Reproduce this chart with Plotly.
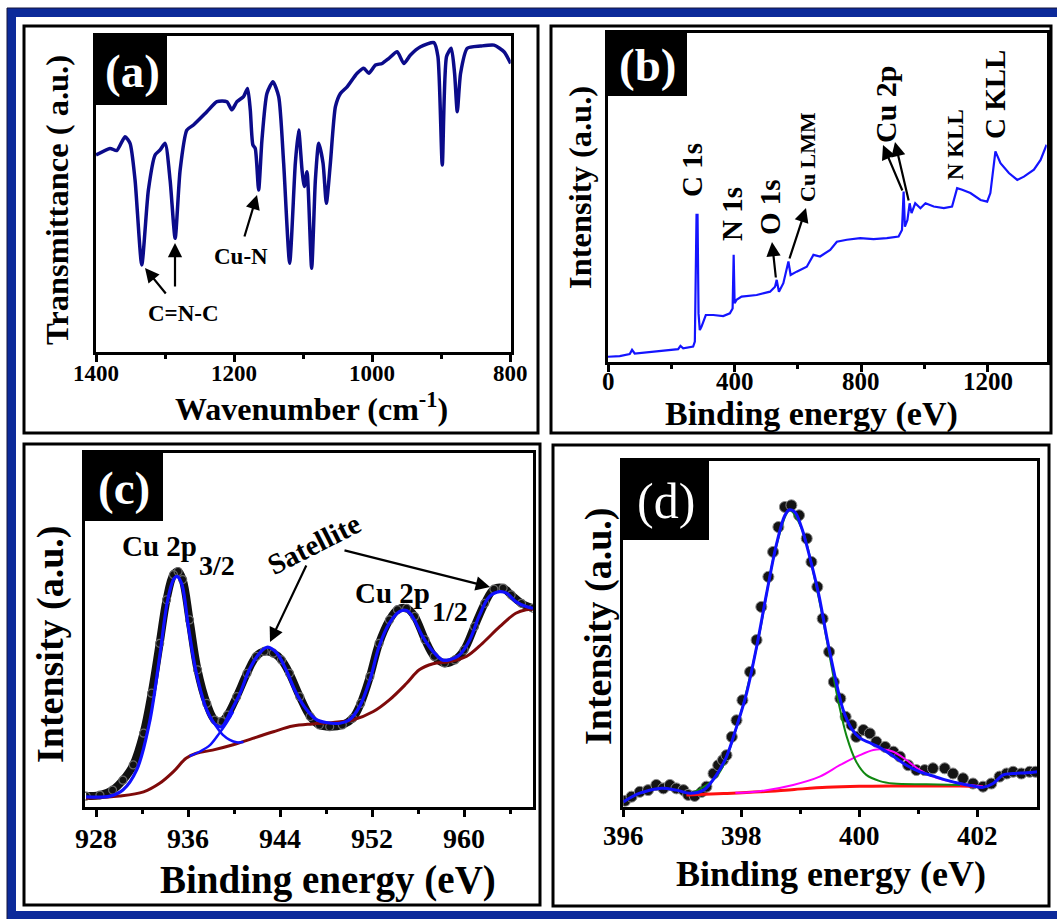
import plotly.graph_objects as go

# ---------------- data ----------------
# (a) FTIR
ftir_wn = [1400, 1379.7, 1370, 1358, 1350.7, 1343.5, 1333.8, 1324.2, 1314.5, 1307.2, 1300, 1292.8,
           1285.5, 1278.3, 1268.6, 1259, 1239.6, 1225, 1210.6, 1203.4, 1196.1, 1186.5, 1180.7, 1176.8,
           1173, 1169.6, 1164.7, 1159.9, 1152.7, 1144, 1135.7, 1128.5, 1119.8, 1111.6, 1106.8, 1101.9,
           1098.6, 1094.7, 1088, 1082.6, 1077.8, 1071.5, 1066.7, 1060.9, 1053.6, 1046.4, 1036.7, 1022.2,
           1012.6, 1005.3, 995.6, 986, 976.3, 964.3, 954.6, 945, 930.4, 911.1, 905.3, 899, 892.8, 886,
           881.2, 877.3, 872.5, 862.8, 843.5, 824.2, 809.7, 800]
ftir_T = [62.3, 64.4, 63.7, 68.1, 66, 54.4, 27.5, 51.2, 62.3, 63.9, 66, 54.4,
          35.9, 57.5, 70.2, 71.8, 76, 79.2, 79.2, 76.6, 79.2, 80.8, 83.4, 76.6,
          65.5, 64.4, 51.2, 67.1, 81.8, 85.5, 80.8, 59.7, 28, 59.7, 70.2, 57.5,
          52.3, 57, 26.4, 54.4, 66, 59.7, 47, 59.7, 77.6, 81.8, 83.9, 88.2,
          89.8, 88.2, 90.8, 91.3, 92.9, 95, 91.3, 94, 96.6, 97.9, 93.5, 59.1, 93.5, 96.1,
          88.2, 76, 88.2, 96.1, 96.8, 97.1, 95, 91.3]

# (b) XPS survey
surv_be = [0, 37, 68.6, 76, 84.4, 132, 184.7, 221.6, 229, 237.5, 269, 274.4, 279.7, 282.9, 286, 290,
           295.5, 309, 332.5, 364, 385, 393.7, 397, 400, 406, 422, 469.7, 511.9, 527.7, 533, 540, 554,
           570, 577, 596, 628, 649, 670, 702, 723, 754.6, 796.8, 839, 881, 918, 928.8, 934, 938, 946,
           953, 959, 970.6, 987, 1003, 1029, 1061, 1087, 1103, 1119, 1145, 1177, 1198, 1208, 1224,
           1240, 1266.5, 1293, 1314, 1345.6, 1366.7, 1385.7]
surv_I = [1.5, 1.7, 2.3, 3.6, 2.5, 3, 3.4, 3.8, 4.8, 4.1, 4.6, 6.1, 44.7, 44.7, 14.7, 9.6,
          10.7, 14.2, 14.2, 13.9, 14.7, 16.2, 32.5, 17.8, 18.8, 19.8, 20.3, 21.3, 22.8, 24.9, 21.3, 23.9,
          30.5, 26.4, 27.4, 28.9, 32.5, 32, 34, 36.5, 37.1, 37.6, 37.3, 37.6, 38.1, 40.1, 51.8, 41.1, 43.1,
          48.2, 45.2, 48.2, 46.7, 48.2, 47.2, 46.7, 47.2, 52.8, 52.3, 51.3, 49.2, 48.7, 51.3, 64,
          60.4, 57.4, 55.3, 56.3, 58.4, 61.4, 66]

# (c) Cu 2p
cu_data_be = [927.1, 928.3, 929.4, 930.3, 931.2, 932.1, 932.8, 933.5, 934.1, 934.7, 935.1, 935.5, 936.1,
              936.8, 937.6, 938.3, 938.9, 939.4, 940.2, 941.1, 941.9, 942.6, 943.4, 944.1, 944.8, 945.7,
              946.6, 947.4, 948.3, 949.4, 950.3, 951.0, 951.8, 952.6, 953.5, 954.2, 955.0, 955.7, 956.6,
              957.4, 958.3, 959.2, 960.0, 960.9, 961.8, 962.6, 963.4, 964.1, 965.0, 966.0]
cu_data_I = [3.0, 3.3, 4.7, 7.5, 11.8, 20.8, 32.1, 46.2, 58.5, 65.6, 66.5, 64.2, 52.8,
             38.7, 29.2, 24.5, 24.1, 25.9, 31.1, 37.7, 42.5, 43.9, 43.4, 41.5, 37.7, 31.1,
             25.5, 23.1, 22.6, 23.1, 25.0, 29.2, 36.8, 46.2, 52.8, 55.7, 56.1, 53.8, 47.2,
             42.5, 40.6, 41.5, 44.3, 50.9, 57.5, 61.5, 61.8, 59.9, 57.5, 56.1]
cu_fit_be = [927.1, 929.2, 930.3, 931.5, 932.6, 933.5, 934.2, 934.7, 935.0, 935.4, 936.0, 936.7, 937.6,
             938.4, 938.9, 939.6, 940.5, 941.3, 942.2, 942.9, 943.7, 944.5, 945.4, 946.3, 947.1, 948.0,
             949.2, 950.0, 950.9, 951.8, 952.6, 953.5, 954.4, 955.0, 955.5, 956.4, 957.3, 958.1, 958.7,
             959.6, 960.5, 961.3, 962.2, 963.1, 963.7, 964.5, 965.4, 966.0]
cu_fit_I = [2.8, 3.0, 4.7, 10.4, 23.6, 42.5, 58.5, 64.2, 65.1, 63.2, 50.9, 37.7, 27.4,
            23.1, 22.6, 26.4, 32.1, 38.7, 43.4, 45.1, 43.4, 38.7, 32.1, 27.4, 24.7, 23.8,
            23.6, 24.5, 28.3, 35.8, 45.3, 51.9, 55.2, 55.5, 53.8, 48.1, 43.9, 41.5, 41.5,
            42.9, 47.2, 53.8, 59.4, 60.8, 60.4, 58.0, 56.6, 56.1]
cu_main_tail_be = [937.6, 938.4, 939.0, 939.6, 940.2, 940.8]
cu_main_tail_I = [27.2, 22.8, 20.3, 18.9, 18.2, 18.3]
cu_sat_rise_be = [936.1, 937.0, 937.9, 938.7, 939.3, 939.9]
cu_sat_rise_I = [14.3, 15.6, 17.5, 20.8, 23.6, 26.9]
cu_bg_be = [927.1, 930.0, 932.1, 933.5, 934.7, 935.8, 936.7, 938.1, 939.9, 941.6, 943.4, 945.1, 946.8,
            948.6, 950.3, 952.1, 953.5, 955.0, 956.1, 957.3, 958.7, 960.2, 961.6, 963.1, 964.5, 965.4, 966.0]
cu_bg_I = [2.4, 3.0, 4.2, 6.6, 9.9, 13.7, 15.1, 16.0, 17.5, 19.3, 21.2, 22.8, 23.4,
           23.8, 24.5, 26.9, 30.2, 34.9, 38.7, 40.4, 41.0, 42.5, 46.2, 50.9, 54.7, 55.7, 55.8]

# (d) N 1s
n_data_be = [396.03, 396.14, 396.28, 396.42, 396.56, 396.68, 396.79, 396.9, 397.02, 397.10, 397.21, 397.33,
             397.41, 397.53, 397.61, 397.69, 397.75, 397.84, 397.92, 398.02, 398.15, 398.26, 398.34, 398.46,
             398.54, 398.63, 398.74, 398.85, 398.98, 399.11, 399.19, 399.29, 399.38, 399.49, 399.57, 399.68,
             399.77, 399.87, 399.95, 400.07, 400.18, 400.29, 400.44, 400.58, 400.69, 400.83, 400.97, 401.11,
             401.25, 401.45, 401.59, 401.76, 401.93, 402.10, 402.24, 402.38, 402.50, 402.61, 402.75, 402.89, 402.99]
n_data_I = [1.7, 2.9, 4.3, 4.8, 6.3, 5.3, 6.3, 5.3, 4.8, 3.4, 3.1, 4.3,
            5.8, 9.6, 12.0, 13.5, 14.9, 20.2, 25.0, 30.8, 39.0, 48.2, 57.8, 66.5,
            73.7, 80.9, 86.7, 87.2, 84.3, 77.6, 70.8, 63.6, 54.4, 44.8, 36.1, 31.3,
            26.0, 23.6, 20.2, 22.2, 21.2, 18.8, 17.3, 15.9, 14.5, 12.0, 10.6, 10.6,
            11.1, 11.1, 9.6, 8.2, 6.7, 5.8, 6.7, 8.7, 9.6, 10.1, 9.6, 10.1, 10.1]
n_fit_be = [396.0, 396.28, 396.62, 396.9, 397.13, 397.36, 397.58, 397.75, 397.92, 398.09, 398.26, 398.43,
            398.60, 398.74, 398.82, 398.91, 399.02, 399.16, 399.31, 399.45, 399.59, 399.73, 399.87, 400.01,
            400.18, 400.35, 400.58, 400.80, 401.03, 401.25, 401.48, 401.71, 401.93, 402.10, 402.27, 402.44,
            402.61, 402.84, 403.02]
n_fit_I = [1.4, 3.9, 5.3, 4.8, 3.9, 4.8, 9.2, 14.5, 23.1, 32.8, 46.2, 61.7,
           76.1, 84.3, 85.9, 85.2, 80.9, 72.3, 61.7, 49.1, 37.6, 27.9, 22.6, 19.9,
           18.5, 17.1, 14.6, 12.0, 10.1, 8.9, 7.7, 6.7, 6.0, 5.6, 6.7, 9.2,
           9.6, 9.8, 10.1]
n_green_be = [397.13, 397.58, 397.92, 398.26, 398.60, 398.82, 399.02, 399.31, 399.45, 399.63, 399.79,
              399.95, 400.12, 400.35, 400.58, 401.14, 401.71]
n_green_I = [3.7, 8.7, 22.9, 46.0, 75.8, 85.7, 80.7, 60.7, 48.2, 31.8, 20.2,
             13.0, 9.2, 7.4, 6.7, 6.5, 6.3]
n_mag_be = [397.9, 398.32, 398.88, 399.33, 399.67, 400.01, 400.24, 400.38, 400.58, 400.80, 401.03,
            401.25, 401.71, 402.1]
n_mag_I = [4.0, 4.5, 6.3, 8.7, 12.0, 14.9, 16.4, 16.6, 15.9, 13.5, 10.6, 8.7, 6.7, 5.8]
n_bg_be = [397.07, 397.7, 398.32, 398.9, 399.45, 400.0, 400.58, 401.2, 401.71, 402.1]
n_bg_I = [3.4, 3.8, 4.3, 5.0, 5.6, 5.9, 6.0, 6.0, 6.0, 5.8]

# tick labels
a_ticks = [1400, 1200, 1000, 800]
a_minor = [1300, 1100, 900]
b_ticks = [0, 400, 800, 1200]
b_minor = [200, 600, 1000]
c_ticks = [928, 936, 944, 952, 960]
c_minor = [932, 940, 948, 956, 964]
d_ticks = [396, 398, 400, 402]
d_minor = [397, 399, 401]

# ---------------- layout helpers ----------------
W, H = 1057, 919
SERIF = "Liberation Serif"


def px(x):
    return x / W


def py(y):
    return 1 - y / H


fig = go.Figure()

# (a)
fig.add_trace(go.Scatter(x=ftir_wn, y=ftir_T, mode="lines",
                         line=dict(color="#0b0b8a", width=3.5, shape="spline", smoothing=0.6),
                         xaxis="x", yaxis="y", showlegend=False))
# (b)
fig.add_trace(go.Scatter(x=surv_be, y=surv_I, mode="lines", line=dict(color="#1414ff", width=2.2),
                         xaxis="x2", yaxis="y2", showlegend=False))
# (c)
fig.add_trace(go.Scatter(x=cu_data_be, y=cu_data_I, mode="lines+markers",
                         line=dict(color="#111111", width=8, shape="spline"),
                         marker=dict(symbol="circle-open", size=8, color="#666666", line=dict(width=1.2)),
                         xaxis="x3", yaxis="y3", showlegend=False))
fig.add_trace(go.Scatter(x=cu_bg_be, y=cu_bg_I, mode="lines", line=dict(color="#7f0a0a", width=3, shape="spline"),
                         xaxis="x3", yaxis="y3", showlegend=False))
fig.add_trace(go.Scatter(x=cu_main_tail_be, y=cu_main_tail_I, mode="lines",
                         line=dict(color="#1010ff", width=2.5, shape="spline"),
                         xaxis="x3", yaxis="y3", showlegend=False))
fig.add_trace(go.Scatter(x=cu_sat_rise_be, y=cu_sat_rise_I, mode="lines",
                         line=dict(color="#1010ff", width=2.5, shape="spline"),
                         xaxis="x3", yaxis="y3", showlegend=False))
fig.add_trace(go.Scatter(x=cu_fit_be, y=cu_fit_I, mode="lines", line=dict(color="#1010ff", width=3.2, shape="spline"),
                         xaxis="x3", yaxis="y3", showlegend=False))
# (d)
fig.add_trace(go.Scatter(x=n_data_be, y=n_data_I, mode="markers",
                         marker=dict(symbol="circle", size=11, color="#141414", line=dict(color="#8a8a8a", width=1)),
                         xaxis="x4", yaxis="y4", showlegend=False))
fig.add_trace(go.Scatter(x=n_bg_be, y=n_bg_I, mode="lines", line=dict(color="#ff1010", width=3, shape="spline"),
                         xaxis="x4", yaxis="y4", showlegend=False))
fig.add_trace(go.Scatter(x=n_mag_be, y=n_mag_I, mode="lines", line=dict(color="#ff00ff", width=2, shape="spline"),
                         xaxis="x4", yaxis="y4", showlegend=False))
fig.add_trace(go.Scatter(x=n_green_be, y=n_green_I, mode="lines", line=dict(color="#118811", width=2, shape="spline"),
                         xaxis="x4", yaxis="y4", showlegend=False))
fig.add_trace(go.Scatter(x=n_fit_be, y=n_fit_I, mode="lines", line=dict(color="#1010ff", width=3, shape="spline"),
                         xaxis="x4", yaxis="y4", showlegend=False))


def xaxis(dom, rng, ticks, minor, anchor):
    return dict(domain=[px(dom[0]), px(dom[1])], range=rng, anchor=anchor, automargin=False,
                showline=True, linecolor="black", linewidth=2.5, mirror=True,
                showgrid=False, zeroline=False, ticks="outside", ticklen=8, tickwidth=2.5,
                tickcolor="black", tickvals=ticks, showticklabels=False,
                minor=dict(tickvals=minor, ticks="outside", ticklen=5, tickwidth=2.5, tickcolor="black",
                           showgrid=False))


def yaxis(dom, anchor):
    return dict(domain=[py(dom[1]), py(dom[0])], range=[0, 100], anchor=anchor, automargin=False,
                showline=True, linecolor="black", linewidth=2.5, mirror=True,
                showgrid=False, zeroline=False, ticks="", showticklabels=False)


fig.update_layout(
    template="none",
    width=W, height=H, margin=dict(l=0, r=0, t=0, b=0, pad=0), autosize=False,
    paper_bgcolor="white", plot_bgcolor="white", font=dict(family=SERIF, color="black"),
    xaxis=xaxis((96, 510.7), [1400, 800], a_ticks, a_minor, "y"),
    yaxis=yaxis((36, 351.7), "x"),
    xaxis2=xaxis((608, 1046.7), [0, 1386], b_ticks, b_minor, "y2"),
    yaxis2=yaxis((33, 361.7), "x2"),
    xaxis3=xaxis((85, 533), [927, 966], c_ticks, c_minor, "y3"),
    yaxis3=yaxis((453, 806.7), "x3"),
    xaxis4=xaxis((623.3, 1037.3), [396, 403.02], d_ticks, d_minor, "y4"),
    yaxis4=yaxis((461, 806.7), "x4"),
)

shapes = []
# outer blue border
shapes.append(dict(type="rect", xref="paper", yref="paper", x0=px(7), x1=px(1070), y0=py(8), y1=py(930),
                   fillcolor="#0c2a9a", line=dict(color="#14143c", width=1), layer="below"))
shapes.append(dict(type="rect", xref="paper", yref="paper", x0=px(16), x1=px(1070), y0=py(17), y1=py(911),
                   fillcolor="white", line=dict(width=0), layer="below"))
# panel frames
for (x0, y0, x1, y1) in [(24, 26, 538, 433), (551, 26, 1051, 433), (24, 444, 540, 905), (553, 445, 1049, 906)]:
    shapes.append(dict(type="rect", xref="paper", yref="paper", x0=px(x0), x1=px(x1), y0=py(y0), y1=py(y1),
                       line=dict(color="black", width=3), fillcolor="rgba(0,0,0,0)", layer="below"))
# label boxes
for (x0, y0, x1, y1) in [(96, 36, 167, 105), (608, 33, 687, 96), (85, 453, 163, 521), (623, 461, 709, 540)]:
    shapes.append(dict(type="rect", xref="paper", yref="paper", x0=px(x0), x1=px(x1), y0=py(y0), y1=py(y1),
                       line=dict(width=0), fillcolor="black", layer="above"))
fig.update_layout(shapes=shapes)

ann = []


def text(x, y, s, size, angle=0, bold=True, color="black", xanchor="center", yanchor="middle"):
    ann.append(dict(x=px(x), y=py(y), xref="paper", yref="paper", text=s, showarrow=False,
                    font=dict(family=SERIF, size=size, color=color, weight="bold" if bold else "normal"),
                    textangle=angle, xanchor=xanchor, yanchor=yanchor))


def ticklabels(xref, ticks, ypix, size):
    for t in ticks:
        ann.append(dict(x=t, y=py(ypix), xref=xref, yref="paper", text=str(t), showarrow=False,
                        font=dict(family=SERIF, size=size, color="black", weight="bold"),
                        xanchor="center", yanchor="middle"))


def arrow(hx, hy, tx, ty):
    ann.append(dict(x=px(hx), y=py(hy), xref="paper", yref="paper", ax=tx - hx, ay=ty - hy,
                    axref="pixel", ayref="pixel", text="", showarrow=True, arrowhead=2, arrowsize=1.3,
                    arrowwidth=2.2, arrowcolor="black", standoff=0, startstandoff=0))


# tick labels
ticklabels("x", a_ticks, 374, 23)
ticklabels("x2", b_ticks, 381, 25)
ticklabels("x3", c_ticks, 838, 28)
ticklabels("x4", d_ticks, 836, 27)

# panel labels
text(132, 71, "(a)", 47, color="white")
text(647, 65, "(b)", 47, color="white")
text(124, 488, "(c)", 47, color="white")
text(666, 501, "(d)", 50, color="white", bold=False)

# axis titles
text(57, 200, "Transmittance ( a.u.)", 32.5, angle=-90)
text(311, 407, "Wavenumber (cm<sup>-1</sup>)", 32)
text(580, 188, "Intensity (a.u.)", 32.5, angle=-90)
text(811, 414, "Binding energy (eV)", 34)
text(50, 644, "Intensity (a.u.)", 38, angle=-90)
text(328, 880, "Binding energy (eV)", 39)
text(598, 626, "Intensity (a.u.)", 38, angle=-90)
text(831, 874, "Binding energy (eV)", 36)

# (a) annotations
text(183, 313, "C=N-C", 23)
text(241, 256, "Cu-N", 23)
arrow(145, 268, 167, 295)
arrow(175, 243, 175, 288)
arrow(257, 195, 244, 238)

# (b) annotations
text(692, 170, "C 1s", 29, angle=-90)
text(732, 214, "N 1s", 29, angle=-90)
text(770, 207, "O 1s", 29, angle=-90)
text(807, 157, "Cu LMM", 22, angle=-90)
text(885, 104, "Cu 2p", 30, angle=-90)
text(955, 145, "N KLL", 23, angle=-90)
text(995, 95, "C KLL", 29, angle=-90)
arrow(772, 242, 776, 279)
arrow(806, 208, 789, 260)
arrow(883, 145, 903, 192)
arrow(895, 142, 909, 202)

# (c) annotations
text(120, 546, "Cu 2p", 29, xanchor="left")
text(197, 565, "3/2", 28, xanchor="left")
text(314, 544, "Satellite", 29, angle=-27)
text(353, 593, "Cu 2p", 29, xanchor="left")
text(430, 611, "1/2", 28, xanchor="left")
arrow(270, 642, 307, 564)
arrow(490, 587, 343, 550)

fig.update_layout(annotations=ann)

fig.write_html("out.html", config={"displayModeBar": False},
               post_script="document.body.style.margin='0';")
